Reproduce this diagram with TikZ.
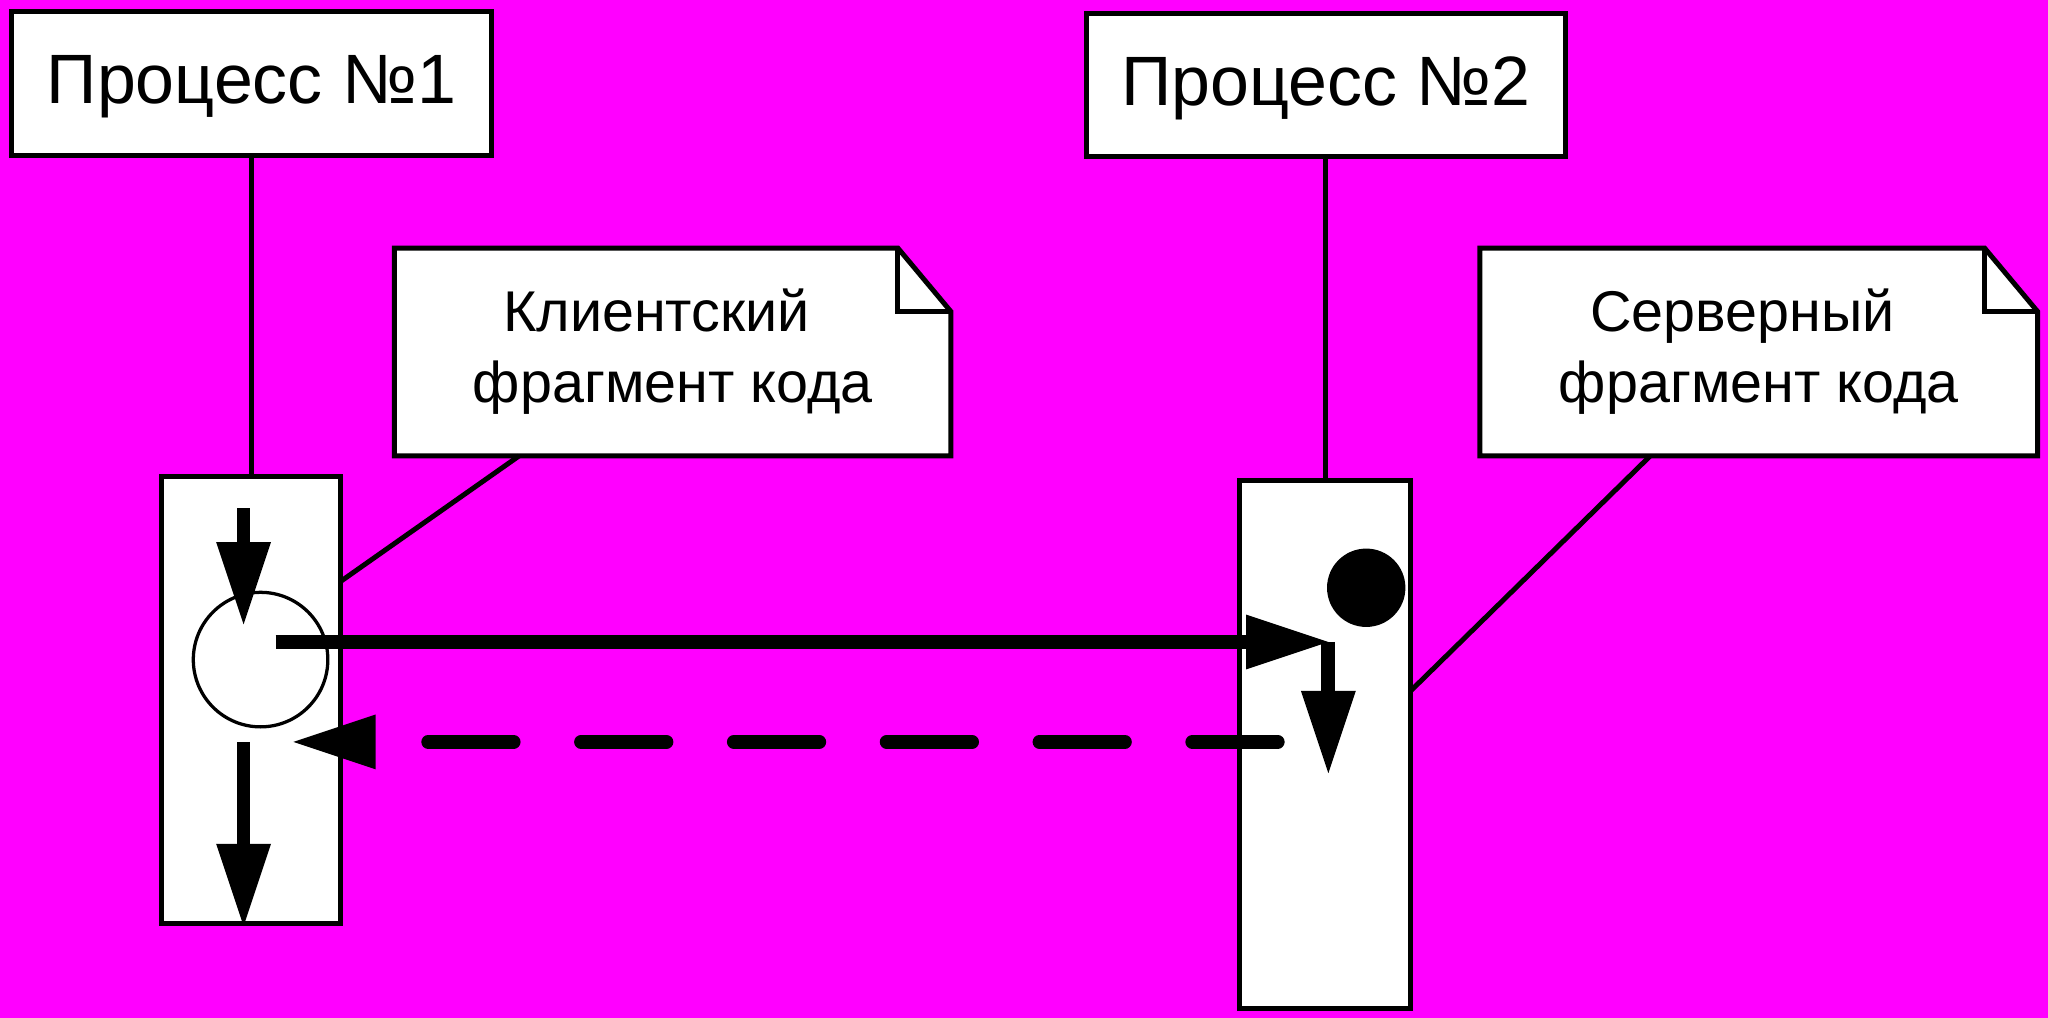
\documentclass[tikz,border=0pt]{standalone}
\usepackage{fontspec}
\setmainfont{Liberation Sans}
\usetikzlibrary{arrows.meta,calc,backgrounds}
\definecolor{bg}{HTML}{FF00FF}
\begin{document}
\begin{tikzpicture}[x=1pt,y=-1pt,
  procbox/.style={draw,fill=white,line width=3.8pt,minimum width=367pt,minimum height=110pt,
    inner sep=0pt,outer sep=0pt,font=\fontsize{53.5}{64}\selectfont,text height=40pt,text depth=9pt},
  notebox/.style={minimum width=426pt,minimum height=159pt,inner sep=0pt,outer sep=0pt,
    align=center,font=\fontsize{44}{54.5}\selectfont},
  actbox/.style={draw,fill=white,line width=3.8pt,inner sep=0pt,outer sep=0pt},
  thinline/.style={line width=3.8pt},
  flow/.style={line width=10.5pt,-{Triangle[length=63pt,width=42pt,line width=0pt]}},
  reply/.style={line width=10.5pt,line cap=round,dash pattern=on 65.5pt off 51.5pt,
    -{Triangle[length=63pt,width=42pt,line width=0pt]}}
]
\useasboundingbox (0,0) rectangle (1568,779.4);
\begin{pgfonlayer}{background}
\fill[bg] (0,0) rectangle (1568,779.4);
\end{pgfonlayer}

% processes
\node[procbox] (p1) at (192.5,64) {Процесс №1};
\node[procbox] (p2) at (1015,65) {Процесс №2};

% activations
\node[actbox,minimum width=137pt,minimum height=342pt] (a1) at (192.5,536) {};
\node[actbox,minimum width=131pt,minimum height=404pt] (a2) at (1014.5,570) {};

% lifelines
\begin{pgfonlayer}{background}
\draw[thinline] (p1.south) -- (p1.south |- a1.north);
\draw[thinline] (p2.south) -- (p2.south |- a2.north);
\end{pgfonlayer}

% notes
\node[notebox] (n1) at (515,269.5) {Клиентский\hspace*{25pt}\\фрагмент кода};
\node[notebox,minimum width=427pt] (n2) at (1346.5,269.5) {Серверный\hspace*{25pt}\\фрагмент кода};
\begin{pgfonlayer}{background}
\foreach \nn in {n1,n2} {
  \filldraw[thinline,fill=white,line join=miter] (\nn.north west) -- ($(\nn.north east)+(-40.5,0)$)
     -- ($(\nn.north east)+(0,48.5)$) -- (\nn.south east) -- (\nn.south west) -- cycle;
  \draw[thinline] ($(\nn.north east)+(-40.5,0)$) |- ($(\nn.north east)+(0,48.5)$);
}
\end{pgfonlayer}

% note connectors
\coordinate (n1c) at ($(n1.south west)+(95.5,0)$);
\coordinate (a1c) at ($(a1.north east)+(0,80)$);
\draw[thinline] (n1c) -- (a1c);
\coordinate (n2c) at ($(n2.south west)+(130.5,0)$);
\coordinate (a2c) at ($(a2.north east)+(0,161)$);
\draw[thinline] (n2c) -- (a2c);

% markers
\node[circle,draw,line width=2.5pt,fill=white,minimum size=103pt,inner sep=0pt] (o1) at (199.5,505) {};
\node[circle,fill=black,minimum size=60pt,inner sep=0pt] (f2) at (1046,450) {};

% flow arrows
\coordinate (s1) at (186.5,389); \coordinate (t1) at (186.5,478);
\coordinate (s3) at (186.5,568); \coordinate (t3) at (186.5,709);
\coordinate (m1) at (211,491.5); \coordinate (m2) at (1017,491.5);
\coordinate (d2) at (1017,592);
\coordinate (r1) at (978.3,568); \coordinate (r2) at (224.6,568);

\draw[flow] (s1) -- (t1);
\draw[flow] (s3) -- (t3);
\draw[flow] (m1) -- (m2);
\draw[flow] (m2) -- (d2);
\draw[reply] (r1) -- (r2);
\end{tikzpicture}
\end{document}
